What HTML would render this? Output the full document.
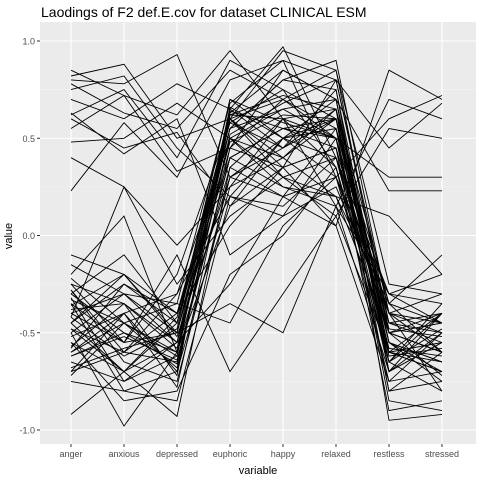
<!DOCTYPE html>
<html><head><meta charset="utf-8">
<style>
html,body{margin:0;padding:0;background:#fff;}
svg{display:block;font-family:"Liberation Sans",sans-serif;}
</style></head>
<body>
<svg id="chart" width="480" height="480" viewBox="0 0 480 480">
  <rect x="0" y="0" width="480" height="480" fill="#fff"/>
  <text x="41" y="17" font-size="14" fill="#000">Laodings of F2 def.E.cov for dataset CLINICAL ESM</text>
  <rect x="40" y="22" width="436" height="422" fill="#ebebeb"/>
  <g id="grid"></g>
  <g id="lines"></g>
  <g id="axes"></g>
  <text x="258" y="474" font-size="11" text-anchor="middle" fill="#000">variable</text>
  <text x="0" y="0" font-size="11" text-anchor="middle" fill="#000" transform="translate(12,236) rotate(-90)">value</text>
</svg>
<script>
const categories = ["anger","anxious","depressed","euphoric","happy","relaxed","restless","stressed"];
const yTicks = [-1.0,-0.5,0.0,0.5,1.0];
const yTickLabels = ["-1.0","-0.5","0.0","0.5","1.0"];
const series = [
[0.85,0.72,0.62,0.95,0.6,0.35,-0.6,-0.7],
[0.82,0.88,0.5,0.6,0.4,0.2,-0.5,-0.4],
[0.80,0.78,0.93,0.3,0.2,0.05,0.85,0.7],
[0.78,0.63,0.55,0.85,0.7,0.5,-0.7,-0.55],
[0.75,0.82,0.45,0.2,0.5,0.3,0.6,0.72],
[0.70,0.6,0.78,0.65,0.97,0.4,-0.4,-0.8],
[0.62,0.75,0.4,0.9,0.75,0.6,-0.8,-0.6],
[0.60,0.45,0.53,0.15,0.35,0.8,0.45,0.68],
[0.55,0.72,0.33,0.45,0.85,0.7,0.23,0.23],
[0.48,0.5,0.68,0.5,0.3,0.1,0.55,0.5],
[0.40,0.25,-0.05,0.25,0.6,0.15,0.7,0.6],
[0.23,0.58,0.3,0.8,0.9,0.3,-0.3,-0.45],
[0.63,0.42,0.6,-0.1,0.1,0.5,0.3,0.3],
[-0.3,-0.5,-0.6,0.6,0.7,0.85,-0.5,-0.6],
[-0.45,-0.2,-0.5,0.55,0.8,0.9,-0.4,-0.5],
[-0.55,-0.7,-0.45,0.7,0.5,0.6,-0.6,-0.7],
[-0.25,-0.35,-0.55,0.65,0.45,0.75,-0.7,-0.4],
[-0.6,-0.4,-0.3,0.5,0.65,0.7,-0.55,-0.65],
[-0.7,-0.6,-0.65,0.4,0.55,0.5,-0.8,-0.75],
[-0.35,-0.8,-0.7,0.6,0.3,0.4,-0.3,-0.35],
[-0.5,-0.3,-0.35,0.68,0.9,0.8,-0.45,-0.55],
[-0.72,-0.45,-0.6,0.35,0.2,0.3,-0.65,-0.8],
[-0.4,-0.55,-0.5,0.62,0.6,0.65,-0.5,-0.45],
[-0.28,-0.65,-0.75,0.3,0.5,0.55,-0.35,-0.6],
[-0.58,-0.25,-0.4,0.58,0.75,0.35,-0.75,-0.5],
[-0.65,-0.75,-0.55,0.45,0.35,0.45,-0.9,-0.85],
[-0.33,-0.45,-0.62,0.63,0.85,0.7,-0.6,-0.4],
[-0.48,-0.6,-0.3,0.2,0.1,0.25,-0.4,-0.3],
[-0.92,-0.7,-0.55,0.5,0.4,0.6,-0.55,-0.7],
[-0.2,0.1,-0.6,0.55,0.65,0.5,-0.65,-0.35],
[-0.1,-0.2,-0.4,0.4,0.55,0.45,-0.5,-0.6],
[-0.42,0.25,-0.25,0.1,0.3,0.2,-0.35,-0.1],
[-0.38,-0.35,-0.72,0.64,0.55,0.6,-0.45,-0.5],
[-0.55,-0.85,-0.8,-0.2,0.0,0.35,-0.6,-0.65],
[-0.3,-0.1,-0.45,0.6,0.95,0.85,-0.25,-0.3],
[-0.62,-0.5,-0.66,0.5,0.25,0.15,-0.7,-0.55],
[-0.45,-0.7,-0.93,0.35,0.6,0.5,-0.4,-0.45],
[-0.7,-0.4,-0.78,0.45,0.7,0.55,-0.55,-0.75],
[-0.25,-0.55,-0.2,0.58,0.45,0.65,-0.65,-0.4],
[-0.5,-0.98,-0.6,0.15,0.5,0.4,-0.5,-0.6],
[-0.15,-0.3,-0.5,-0.35,-0.5,0.15,-0.3,-0.2],
[-0.6,-0.45,-0.35,-0.45,0.05,0.3,-0.45,-0.4],
[-0.35,-0.55,-0.1,-0.7,-0.3,0.1,-0.6,-0.55],
[-0.4,-0.3,-0.55,-0.25,0.2,0.55,-0.85,-0.9],
[-0.28,-0.6,-0.4,0.05,0.35,0.05,-0.75,-0.7],
[-0.52,-0.4,-0.7,0.25,0.4,0.65,-0.35,-0.45],
[-0.45,-0.25,-0.45,0.55,0.8,0.75,-0.55,-0.65],
[-0.68,-0.58,-0.5,0.48,0.62,0.6,-0.62,-0.58],
[-0.32,-0.75,-0.62,0.66,0.5,0.7,-0.7,-0.5],
[-0.57,-0.35,-0.58,0.6,0.35,0.45,-0.5,-0.72],
[-0.22,-0.45,-0.68,0.52,0.68,0.8,-0.4,-0.6],
[-0.75,-0.8,-0.85,0.2,0.15,0.4,-0.65,-0.48],
[-0.42,-0.62,-0.48,0.7,0.58,0.5,-0.58,-0.62],
[-0.36,-0.2,-0.52,0.3,0.45,0.6,-0.48,-0.52],
[-0.62,-0.52,-0.64,0.4,0.25,0.2,0.1,-0.2],
[-0.48,-0.7,-0.42,0.62,0.72,0.65,-0.95,-0.92]
];

const NS = "http://www.w3.org/2000/svg";
const PL = 40, PR = 476, PT = 22, PB = 444;
function xScale(i){ return 71 + i * 53; }
function yScale(v){ return 235.5 - v * 194.5; }
function mk(tag, attrs, parent){
  const e = document.createElementNS(NS, tag);
  for (const k in attrs) e.setAttribute(k, attrs[k]);
  parent.appendChild(e);
  return e;
}
const grid = document.getElementById('grid');
const lines = document.getElementById('lines');
const axes = document.getElementById('axes');

// minor y grid
for (let i = 0; i < yTicks.length - 1; i++) {
  const y = yScale((yTicks[i] + yTicks[i+1]) / 2);
  const g = mk('line', {x1:PL, x2:PR, y1:y, y2:y, stroke:'#f5f5f5', 'stroke-width':0.6}, grid);
  
  
}
yTicks.forEach((v, i) => {
  const y = yScale(v);
  const g = mk('line', {x1:PL, x2:PR, y1:y, y2:y, stroke:'#fff', 'stroke-width':1.1}, grid);
  
  
  const t = mk('line', {x1:PL-3, x2:PL, y1:y, y2:y, stroke:'#333', 'stroke-width':1}, axes);
  
  
  const lb = mk('text', {x:PL-5, y:y+3.5, 'font-size':9, fill:'#4d4d4d', 'text-anchor':'end'}, axes);
  lb.textContent = yTickLabels[i];
  
  
});
categories.forEach((c, i) => {
  const x = xScale(i);
  const g = mk('line', {x1:x, x2:x, y1:PT, y2:PB, stroke:'#fff', 'stroke-width':1.1}, grid);
  
  
  const t = mk('line', {x1:x, x2:x, y1:PB, y2:PB+3, stroke:'#333', 'stroke-width':1}, axes);
  
  
  const lb = mk('text', {x:x, y:PB+13, 'font-size':9, fill:'#4d4d4d', 'text-anchor':'middle'}, axes);
  lb.textContent = c;
  
  
});
series.forEach((row) => {
  const pts = row.map((v, i) => xScale(i).toFixed(1) + ',' + yScale(v).toFixed(1)).join(' ');
  const p = mk('polyline', {points:pts, fill:'none', stroke:'#000', 'stroke-width':0.9}, lines);
  
  
});
</script>
</body></html>
